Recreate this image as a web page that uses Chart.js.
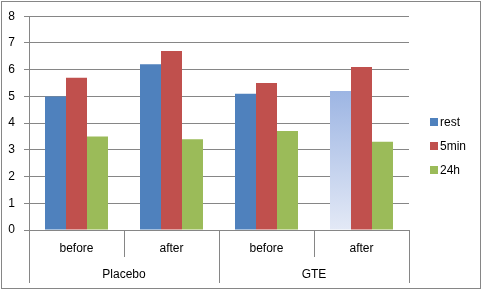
<!DOCTYPE html>
<html>
<head>
<meta charset="utf-8">
<script src="https://cdn.jsdelivr.net/npm/chart.js"></script>
<style>
  html, body { margin: 0; padding: 0; background: #fff; }
  #wrap { width: 483px; height: 291px; }
</style>
</head>
<body>
<div id="wrap"><canvas id="myChart" width="483" height="291"></canvas></div>
<script>
// data
let subLabels = ["before", "after", "before", "after"];
let groupLabels = ["Placebo", "GTE"];
let seriesNames = ["rest", "5min", "24h"];
let restValues = [5.0, 6.2, 5.1, 5.2];
let fiveMinValues = [5.7, 6.7, 5.5, 6.1];
let dayValues = [3.5, 3.4, 3.7, 3.3];
let yTicks = [0, 1, 2, 3, 4, 5, 6, 7, 8];

let barColors = ["#4F81BD", "#C0504D", "#9BBB59"];
let lineColor = "#868686";
let font = "Liberation Sans";

// the last "rest" bar is drawn with a fading fill
function restColor(c) {
  let chart = c.chart;
  if (c.type !== "data" || c.dataIndex !== 3 || !chart.chartArea) return barColors[0];
  let y = chart.scales.y;
  let top = y.getPixelForValue(restValues[3]);
  let bottom = y.getPixelForValue(0);
  let g = chart.ctx.createLinearGradient(0, top, 0, bottom);
  g.addColorStop(0, "#9DB5E3");
  g.addColorStop(1, "#E3E9F6");
  return g;
}

const extras = {
  id: "extras",
  beforeDraw(chart) {
    let ctx = chart.ctx;
    ctx.save();
    ctx.fillStyle = "#fff";
    ctx.fillRect(0, 0, chart.width, chart.height);
    ctx.strokeStyle = lineColor;
    ctx.lineWidth = 1;
    ctx.strokeRect(1.5, 1.5, 479, 287);
    ctx.restore();
  },
  afterDraw(chart) {
    let ctx = chart.ctx;
    let x = chart.scales.x;
    let area = chart.chartArea;
    let half = (x.getPixelForValue(1) - x.getPixelForValue(0)) / 2;
    ctx.save();
    ctx.strokeStyle = lineColor;
    ctx.lineWidth = 1;
    // category separators below the axis
    for (let i = 0; i <= subLabels.length; i++) {
      let px = Math.round(x.getPixelForValue(i) - half) + 0.5;
      let len = (i % 2 === 0) ? 53 : 27;
      ctx.beginPath();
      ctx.moveTo(px, area.bottom);
      ctx.lineTo(px, area.bottom + len);
      ctx.stroke();
    }
    // group labels
    ctx.fillStyle = "#000";
    ctx.font = "12px '" + font + "'";
    ctx.textAlign = "center";
    ctx.textBaseline = "alphabetic";
    for (let g = 0; g < groupLabels.length; g++) {
      let cx = (x.getPixelForValue(g * 2) + x.getPixelForValue(g * 2 + 1)) / 2;
      ctx.fillText(groupLabels[g], cx, area.bottom + 47.5);
    }
    // legend
    ctx.textAlign = "left";
    chart.data.datasets.forEach(function(ds, i) {
      ctx.fillStyle = barColors[i];
      ctx.fillRect(430, 118 + i * 24, 8, 8);
      ctx.fillStyle = "#000";
      ctx.fillText(ds.label, 440, 126 + i * 24);
    });
    ctx.restore();
  }
};

new Chart("myChart", {
  type: "bar",
  data: {
    labels: subLabels,
    datasets: [
      { label: seriesNames[0], data: restValues, backgroundColor: restColor },
      { label: seriesNames[1], data: fiveMinValues, backgroundColor: barColors[1] },
      { label: seriesNames[2], data: dayValues, backgroundColor: barColors[2] }
    ]
  },
  options: {
    responsive: false,
    animation: false,
    devicePixelRatio: 1,
    categoryPercentage: 0.663,
    barPercentage: 1,
    layout: { padding: { left: 0, top: 15, right: 74, bottom: 0 } },
    plugins: {
      legend: { display: false },
      tooltip: { enabled: false }
    },
    scales: {
      x: {
        afterFit: function(s) { s.height = 61; },
        grid: { display: false },
        border: { display: true, color: lineColor },
        ticks: { color: "#000", padding: 3, font: { family: font, size: 12 } }
      },
      y: {
        min: 0,
        max: 8,
        afterFit: function(s) { s.width = 29; },
        afterBuildTicks: function(s) { s.ticks = yTicks.map(function(v) { return { value: v }; }); },
        grid: { color: lineColor, tickLength: 5 },
        border: { display: true, color: lineColor },
        ticks: { color: "#000", padding: 9, font: { family: font, size: 12 } }
      }
    }
  },
  plugins: [extras]
});
</script>
</body>
</html>
